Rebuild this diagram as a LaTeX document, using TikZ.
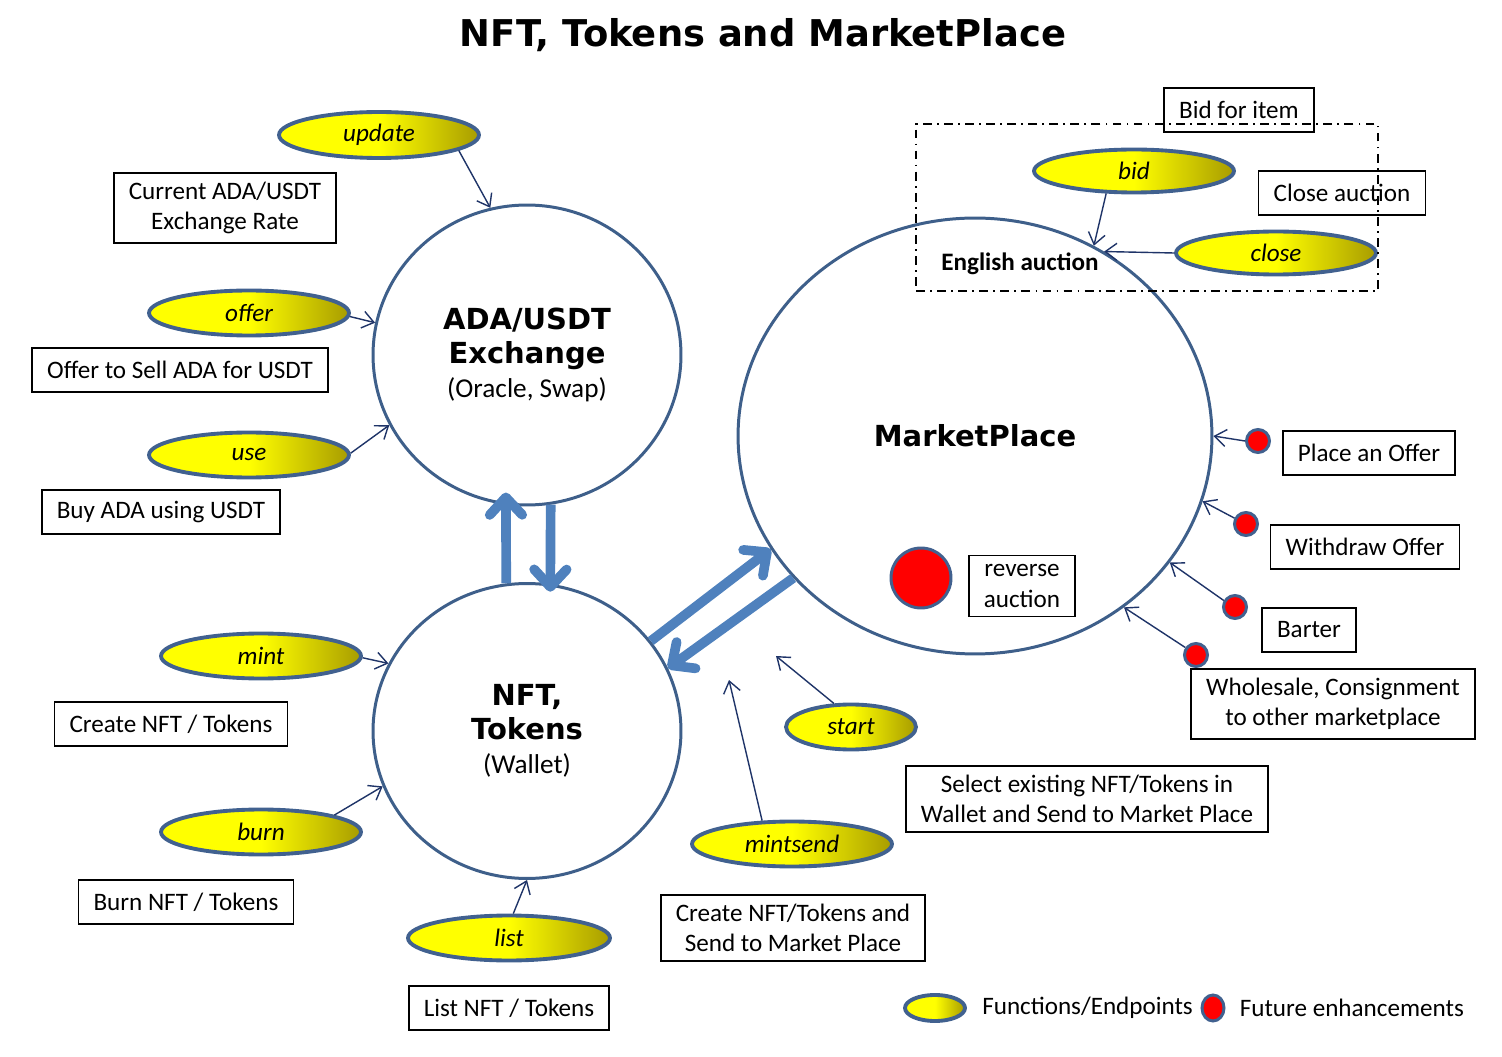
\documentclass[tikz,border=0pt]{standalone}
\usepackage{fontspec}
\setmainfont{Carlito}
\newfontfamily\headfont{DejaVu Sans}
\usetikzlibrary{positioning, arrows.meta, shapes.geometric}
\definecolor{hubBlue}{HTML}{3E5F8A}
\definecolor{fnEdge}{HTML}{41618F}
\definecolor{arrNavy}{HTML}{1F3468}
\definecolor{flowBlue}{HTML}{4F81BD}
\definecolor{fnDark}{HTML}{A89C00}
\definecolor{futRed}{HTML}{FF0000}
\newcommand{\hubfont}{\headfont\bfseries\fontsize{16.5}{19.5}\selectfont}
\newcommand{\subfont}{\normalfont\fontsize{15.5}{19.5}\selectfont}

\begin{document}
\begin{tikzpicture}[
  x=0.02cm, y=-0.02cm,
  every node/.style={font=\fontsize{14.3}{17.2}\selectfont},
  hub/.style={ellipse, draw=hubBlue, line width=1.7pt, fill=white,
              inner sep=0pt, align=center},
  fn/.style={ellipse, draw=fnEdge, line width=2.2pt, left color=yellow,
             right color=fnDark, middle color=yellow, minimum width=4cm,
             minimum height=0.9cm, inner sep=0pt,
             font=\fontsize{14.3}{17.2}\selectfont\itshape},
  fut/.style={circle, draw=fnEdge, line width=1.7pt, fill=futRed,
              minimum size=0.46cm, inner sep=0pt},
  box/.style={draw=black, line width=0.9pt, fill=white, align=center,
              inner xsep=0.3cm, inner ysep=0.18cm, minimum height=0.88cm},
  arr/.style={-{Straight Barb[length=2.3mm, width=3.4mm]}, arrNavy, line width=0.8pt},
  bigarr/.style={-{Straight Barb[round, length=3.5mm, width=6.5mm]}, flowBlue, line width=5.5pt}
]
\useasboundingbox (0,0) rectangle (1502,1057);

% title
\node[font=\headfont\bfseries\fontsize{21}{24}\selectfont] (title) at (763,35)
  {NFT, Tokens and MarketPlace};

% the three blocks
\node[hub, minimum width=6.16cm, minimum height=6cm, font=\hubfont] (exch) at (527,355)
  {ADA/USDT\\Exchange\\\subfont (Oracle, Swap)};
\node[hub, minimum width=6.16cm, minimum height=5.9cm, font=\hubfont] (wallet) at (527,731)
  {NFT,\\Tokens\\\subfont (Wallet)};
\node[hub, minimum width=9.48cm, minimum height=8.72cm, font=\hubfont] (market) at (975,436)
  {MarketPlace};

% flows between blocks
\draw[bigarr, shorten >=-0.25cm] (wallet.98) -- (exch.262);
\draw[bigarr, shorten >=-0.16cm] (exch.279) -- (wallet.81);
\draw[bigarr] (wallet.36) -- (market.209);
\draw[bigarr] (market.218) -- (wallet.24);

% exchange endpoints
\node[fn, minimum height=0.92cm] (update) at (379,135) {update};
\node[box] (rateb) at (225,208) {Current ADA/USDT\\Exchange Rate};
\node[fn] (offer) at (249,313) {offer};
\node[box] (offerb) at (180,370) {Offer to Sell ADA for USDT};
\node[fn] (use) at (249,455) {use};
\node[box] (useb) at (161,512) {Buy ADA using USDT};

% wallet endpoints
\node[fn] (mint) at (261,656) {mint};
\node[box] (mintb) at (171,724) {Create NFT / Tokens};
\node[fn] (burn) at (261,832) {burn};
\node[box] (burnb) at (186,902) {Burn NFT / Tokens};
\node[fn, minimum width=4.04cm] (list) at (509,938) {list};
\node[box] (listb) at (509,1008) {List NFT / Tokens};

% marketplace endpoints
\node[fn] (msend) at (792,844) {mintsend};
\node[box] (msendb) at (793,928) {Create NFT/Tokens and\\Send to Market Place};
\node[fn, minimum width=2.6cm] (start) at (851,727) {start};
\node[box] (startb) at (1087,799) {Select existing NFT/Tokens in\\Wallet and Send to Market Place};
\coordinate (msendtip) at (729,680);
\coordinate (starttip) at (776,656);

% english auction
\node[box] (bidb) at (1239,110) {Bid for item};
\node[box] (closeb) at (1342,193) {Close auction};
\node[fn, minimum height=0.86cm] (bid) at (1134,171) {bid};
\node[fn, minimum height=0.86cm] (close) at (1276,253) {close};
\node[font=\fontsize{14.3}{17.2}\selectfont\bfseries] (english) at (1020,264) {English auction};
\node[draw, line width=0.9pt, dash pattern=on 5pt off 3pt on 1pt off 3pt,
      minimum width=9.24cm, minimum height=3.34cm] (auction) at (1147,207.5) {};

% future enhancements
\node[fut, minimum size=1.2cm] (revdot) at (921,578) {};
\node[box] (reverseb) at (1022,586) {reverse\\auction};
\node[fut] (place) at (1258,441) {};
\node[box] (placeb) at (1369,453) {Place an Offer};
\node[fut] (withdraw) at (1246,524) {};
\node[box] (withdrawb) at (1365,547) {Withdraw Offer};
\node[fut] (barter) at (1235,607) {};
\node[box] (barterb) at (1309,630) {Barter};
\node[fut] (whole) at (1196,655) {};
\node[box] (wholeb) at (1333,704) {Wholesale, Consignment\\to other marketplace};

% endpoint arrows
\draw[arr] (update.349) -- (exch.104);
\draw[arr] (offer.358) -- (exch.168);
\draw[arr] (use.1) -- (exch.207);
\draw[arr] (mint.359) -- (wallet.154);
\draw[arr] (burn.13) -- (wallet.201);
\draw[arr] (list.80) -- (wallet.270);
\draw[arr] (msend.142) -- (msendtip);
\draw[arr] (start.126) -- (starttip);
\draw[arr] (bid.219) -- (market.58);
\draw[arr] (close.west) -- (market.55);
\draw[arr] (place.west) -- (market.0);
\draw[arr] (withdraw.153) -- (market.344);
\draw[arr] (barter.150) -- (market.327);
\draw[arr] (whole.145) -- (market.311);

% legend
\node[fn, minimum width=1.2cm, minimum height=0.52cm] (keyfn) at (935,1008) {};
\node[right=0.3cm of keyfn, inner sep=0pt] (keyfntxt) {Functions/Endpoints};
\node[fut, ellipse, minimum width=0.44cm, minimum height=0.52cm] (keyfut) at (1213,1008) {};
\node[right=0.28cm of keyfut, inner sep=0pt] (keyfuttxt) {Future enhancements};
\end{tikzpicture}
\end{document}
